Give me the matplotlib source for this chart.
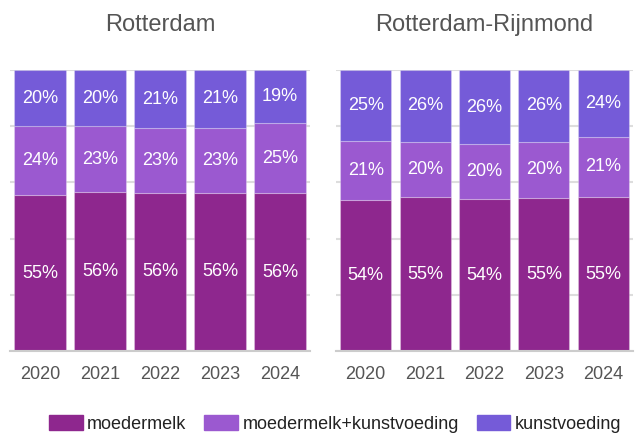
import matplotlib.pyplot as plt
from matplotlib.patches import Patch

plt.rcParams['font.family'] = ['Liberation Sans', 'DejaVu Sans']

years = ['2020', '2021', '2022', '2023', '2024']
series = ['moedermelk', 'moedermelk+kunstvoeding', 'kunstvoeding']
colors = ['#8e278e', '#9b59d0', '#755bd8']

# shares in % (labels are the rounded values)
rdam_moedermelk = [55.4, 56.5, 56.3, 56.3, 56.1]
rdam_mix = [24.5, 23.4, 23.0, 23.1, 25.1]
rdam_kunst = [20.1, 20.1, 20.7, 20.6, 18.8]

rr_moedermelk = [53.6, 54.7, 54.0, 54.6, 54.8]
rr_mix = [21.3, 19.7, 19.6, 19.8, 21.4]
rr_kunst = [25.1, 25.6, 26.4, 25.6, 23.8]

panels = [
    ('Rotterdam', [rdam_moedermelk, rdam_mix, rdam_kunst]),
    ('Rotterdam-Rijnmond', [rr_moedermelk, rr_mix, rr_kunst]),
]

fig = plt.figure(figsize=(6.36, 4.37), dpi=100)
axes_pos = [[10 / 636, 86 / 437, 300 / 636, 281 / 437],
            [336 / 636, 86 / 437, 297 / 636, 281 / 437]]

for (title, data), pos in zip(panels, axes_pos):
    ax = fig.add_axes(pos)
    x = range(len(years))
    bottom = [0] * len(years)
    for vals, col in zip(data, colors):
        bars = ax.bar(x, vals, width=0.86, bottom=bottom, color=col,
                      edgecolor=(1, 1, 1, 0.25), linewidth=0.8, zorder=3)
        for b, v, y0 in zip(bars, vals, bottom):
            ax.text(b.get_x() + b.get_width() / 2, y0 + v / 2, f'{round(v)}%',
                    ha='center', va='center', color='white', fontsize=13, zorder=4)
        bottom = [a + b for a, b in zip(bottom, vals)]
    ax.set_xlim(-0.5, 4.5)
    ax.set_ylim(0, 100)
    ax.set_yticks([0, 20, 40, 60, 80, 100])
    ax.yaxis.grid(True, color='#dddddd', linewidth=1.5, zorder=0)
    ax.set_xticks(list(x))
    ax.set_xticklabels(years, fontsize=13, color='#555555')
    ax.tick_params(axis='x', length=0, pad=11)
    ax.tick_params(axis='y', length=0, labelleft=False)
    for s in ['top', 'right', 'left']:
        ax.spines[s].set_visible(False)
    ax.spines['bottom'].set_color('#cccccc')
    ax.spines['bottom'].set_linewidth(1.5)
    ax.spines['bottom'].set_zorder(5)
    ax.set_title(title, fontsize=17, color='#555555', pad=28)

handles = [Patch(facecolor=c, edgecolor=c, label=s) for s, c in zip(series, colors)]
fig.legend(handles=handles, loc='lower center', bbox_to_anchor=(0.527, -0.028),
           ncol=3, frameon=False, fontsize=13, handlelength=1.85, handleheight=0.9,
           handletextpad=0.25, columnspacing=1.0, labelcolor='#222222')

fig.savefig('out.png', dpi=100)
